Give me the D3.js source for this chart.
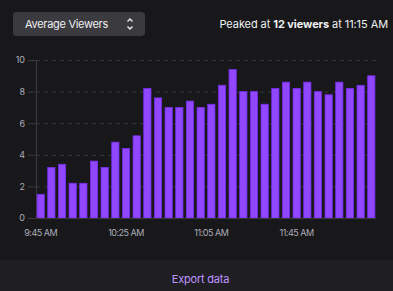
<!DOCTYPE html>
<html><head><meta charset="utf-8">
<script src="https://cdn.jsdelivr.net/npm/d3@7"></script>
<style>
html,body{margin:0;padding:0;background:#18181b;}
svg{display:block;font-family:Inter,"Noto Sans",sans-serif;}
</style></head>
<body><svg id="c" width="393" height="291"></svg>
<script>
const times = ["9:45 AM","9:50 AM","9:55 AM","10:00 AM","10:05 AM","10:10 AM","10:15 AM","10:20 AM","10:25 AM","10:30 AM","10:35 AM","10:40 AM","10:45 AM","10:50 AM","10:55 AM","11:00 AM","11:05 AM","11:10 AM","11:15 AM","11:20 AM","11:25 AM","11:30 AM","11:35 AM","11:40 AM","11:45 AM","11:50 AM","11:55 AM","12:00 PM","12:05 PM","12:10 PM","12:15 PM","12:20 PM"];
const viewers = [1.5,3.2,3.4,2.2,2.2,3.6,3.2,4.8,4.4,5.2,8.2,7.6,7.0,7.0,7.4,7.0,7.2,8.4,9.4,8.0,8.0,7.2,8.2,8.6,8.2,8.6,8.0,7.8,8.6,8.2,8.4,9.0];
const xTickLabels = ["9:45 AM","10:25 AM","11:05 AM","11:45 AM"];
const yTicks = [0,2,4,6,8,10];

const svg = d3.select("#c");
const W = 393, H = 291;
// footer
svg.append("rect").attr("x",0).attr("y",260).attr("width",W).attr("height",31).attr("fill","#1f1f23");
svg.append("text").attr("x",200.5).attr("y",283).attr("text-anchor","middle")
  .attr("fill","#bf94ff").attr("font-size",11).attr("letter-spacing","-0.2").text("Export data");

// select box
svg.append("rect").attr("x",13).attr("y",12).attr("width",132).attr("height",24).attr("rx",4)
  .attr("fill","#3a3a3f");
svg.append("text").attr("x",25).attr("y",28).attr("fill","#efeff1").attr("font-size",11)
  .attr("letter-spacing","-0.3").text("Average Viewers");
const chev = svg.append("g").attr("fill","none").attr("stroke","#efeff1").attr("stroke-width",1.4);
chev.append("path").attr("d","M127.5 21.5 L130 19 L132.5 21.5");
chev.append("path").attr("d","M127.5 26.5 L130 29 L132.5 26.5");

// peak text
const pk = svg.append("text").attr("x",388).attr("y",28).attr("text-anchor","end")
  .attr("fill","#efeff1").attr("font-size",11).attr("letter-spacing","-0.08");
pk.append("tspan").text("Peaked at ");
pk.append("tspan").attr("font-weight","bold").text("12 viewers");
pk.append("tspan").text(" at 11:15 AM");

const m = {l:36, r:376, t:60, b:218};
const x = d3.scaleBand().domain(times).range([m.l, m.r]).paddingInner(0.32).paddingOuter(0.1);
const y = d3.scaleLinear().domain([0,10]).range([m.b, m.t]);

// grid
const gy = svg.append("g").attr("transform",`translate(${m.l},0)`)
  .call(d3.axisLeft(y).tickValues(yTicks).tickSize(8).tickFormat(d3.format("d")));
gy.select(".domain").attr("stroke","#3a3a3f");
gy.selectAll(".tick line").attr("stroke","#3a3a3f");
gy.selectAll(".tick text").attr("fill","#adadb8").attr("font-size",9).attr("x",-11).attr("font-family","Inter,sans-serif");
svg.append("g").selectAll("line").data(yTicks.filter(d=>d>0)).join("line")
  .attr("x1",m.l).attr("x2",m.r).attr("y1",d=>y(d)+0.5).attr("y2",d=>y(d)+0.5)
  .attr("stroke","#35353b").attr("stroke-dasharray","4,4");

// bars
svg.append("g").selectAll("rect").data(viewers).join("rect")
  .attr("x",(d,i)=>x(times[i])).attr("width",x.bandwidth())
  .attr("y",d=>y(d)).attr("height",d=>y(0)-y(d))
  .attr("fill","#9147ff").attr("stroke","#772ce8").attr("stroke-width",0.8);

// x axis
const gx = svg.append("g").attr("transform",`translate(0,${m.b})`)
  .call(d3.axisBottom(x).tickValues(xTickLabels).tickSize(0).tickPadding(12));
gx.select(".domain").attr("stroke","#3a3a3f");
gx.selectAll(".tick text").attr("fill","#adadb8").attr("font-size",9).attr("font-family","Inter,sans-serif").attr("letter-spacing","-0.5");
</script></body></html>
